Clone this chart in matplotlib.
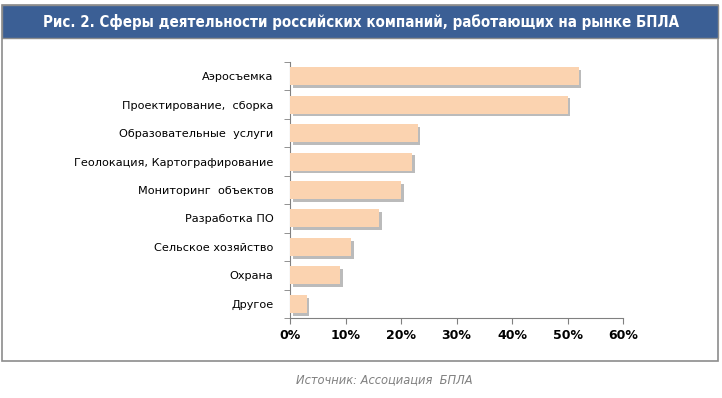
import matplotlib
matplotlib.use("Agg")
import matplotlib.pyplot as plt
import matplotlib.patheffects as pe
from matplotlib.patches import Rectangle
from matplotlib.ticker import FixedLocator

categories = ["Аэросъемка", "Проектирование,  сборка", "Образовательные  услуги",
              "Геолокация, Картографирование", "Мониторинг  объектов", "Разработка ПО",
              "Сельское хозяйство", "Охрана", "Другое"]
values = [52, 50, 23, 22, 20, 16, 11, 9, 3]
xticks = [0, 10, 20, 30, 40, 50, 60]
xticklabels = ["0%", "10%", "20%", "30%", "40%", "50%", "60%"]
title = "Рис. 2. Сферы деятельности российских компаний, работающих на рынке БПЛА"
source = "Источник: Ассоциация  БПЛА"

W, H = 722, 398
fig = plt.figure(figsize=(W/100, H/100), dpi=100)
fig.patch.set_facecolor("white")

# banner and frame
fig.patches.append(Rectangle((2/W, 1-361/H), 716/W, (361-5)/H, transform=fig.transFigure,
                             facecolor="white", edgecolor="#8c8c8c", lw=1.2, zorder=-5))
fig.patches.append(Rectangle((2/W, 1-38/H), 716/W, 33/H, transform=fig.transFigure,
                             facecolor="#3b5f95", edgecolor="#8c8c8c", lw=1.0, zorder=-4))
fig.text(361/W, 1-22/H, title, color="white", ha="center", va="center", fontsize=10.8,
         fontweight="bold", fontstretch="condensed", family="DejaVu Sans")

ax = fig.add_axes([290/W, 1-318/H, 333/W, 256/H])
ax.set_facecolor("none")
n = len(categories)
ypos = list(range(n))
bars = ax.barh(ypos, values, height=0.63, color="#fbd3b0", edgecolor="none", zorder=3)
for b in bars:
    b.set_path_effects([pe.SimplePatchShadow(offset=(2, -2), shadow_rgbFace="#8f8f8f", alpha=0.6),
                        pe.Normal()])
ax.set_ylim(n - 0.5, -0.5)
ax.set_xlim(0, 60)
ax.set_yticks(ypos)
ax.set_yticklabels(categories, fontsize=8.1, family="DejaVu Sans")
ax.yaxis.set_minor_locator(FixedLocator([i - 0.5 for i in range(n + 1)]))
ax.tick_params(axis="y", which="major", length=0, pad=12)
ax.tick_params(axis="y", which="minor", length=4, color="#808080", direction="out")
ax.set_xticks(xticks)
ax.set_xticklabels(xticklabels, fontsize=9, fontweight="bold")
ax.tick_params(axis="x", length=4, color="#808080", pad=4)
for s in ["top", "right"]:
    ax.spines[s].set_visible(False)
for s in ["left", "bottom"]:
    ax.spines[s].set_color("#808080")

fig.text(384/W, 1-380/H, source, color="#808080", ha="center", va="center", fontsize=9.2,
         style="italic", fontstretch="condensed", family="DejaVu Sans")

fig.savefig("out.png", dpi=100)
